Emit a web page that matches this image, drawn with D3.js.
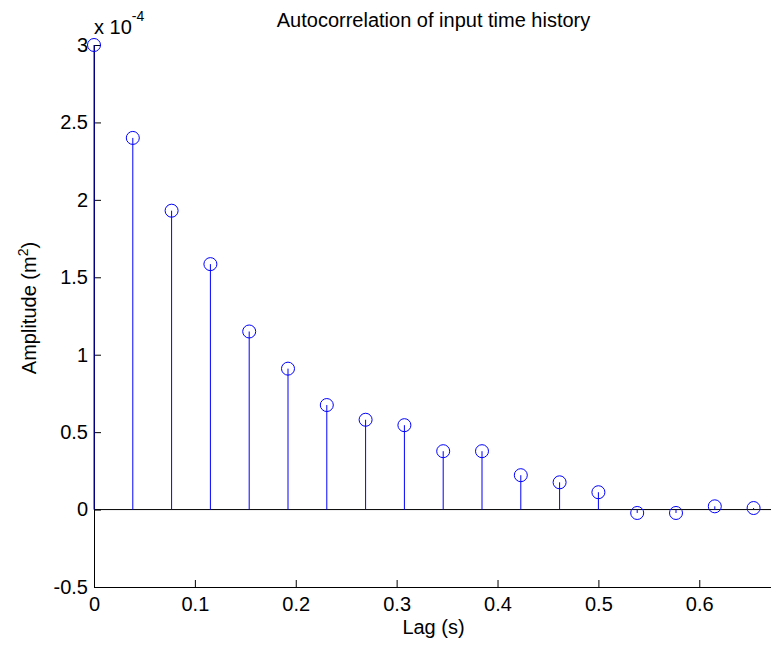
<!DOCTYPE html>
<html lang="en">
<head>
<meta charset="utf-8">
<title>Autocorrelation of input time history</title>
<script src="https://cdn.jsdelivr.net/npm/d3@7"></script>
<style>
  body { margin: 0; background: #fff; }
  svg { display: block; font-family: Arial, "Liberation Sans", Helvetica, sans-serif; }
  .axis path, .axis line { stroke: #000; }
  .axis text { fill: #000; font-size: 20px; }
</style>
</head>
<body>
<script>
// lag index k, lag = k / 26 s
var lagSteps = [0, 1, 2, 3, 4, 5, 6, 7, 8, 9, 10, 11, 12, 13, 14, 15, 16, 17];
var sampleRate = 26;
// amplitude in units of 1e-4 m^2
var amplitude = [3.00, 2.40, 1.93, 1.585, 1.15, 0.91, 0.675, 0.58, 0.545, 0.377,
                 0.377, 0.222, 0.176, 0.112, -0.022, -0.022, 0.021, 0.010];
var xTicks = [0, 0.1, 0.2, 0.3, 0.4, 0.5, 0.6];
var yTicks = [-0.5, 0, 0.5, 1, 1.5, 2, 2.5, 3];

var w = 771, h = 647;
var margin = {top: 45, right: -2, bottom: 60, left: 94};

var svg = d3.select("body").append("svg")
  .attr("width", w)
  .attr("height", h);

var x = d3.scaleLinear()
  .domain([0, 17.5 / sampleRate])
  .range([margin.left, w - margin.right]);

var y = d3.scaleLinear()
  .domain([-0.5, 3])
  .range([h - margin.bottom, margin.top]);

var data = lagSteps.map(function(k, i) {
  return {lag: k / sampleRate, val: amplitude[i]};
});

// plain hyphen for negatives, like matlab
var fmt = function(d) { return String(+d.toFixed(2)); };

// axes (ticks point inward like matlab)
var xAxis = d3.axisBottom(x)
  .tickValues(xTicks)
  .tickFormat(fmt)
  .tickSizeInner(-7)
  .tickSizeOuter(0)
  .tickPadding(10);

var yAxis = d3.axisLeft(y)
  .tickValues(yTicks)
  .tickFormat(fmt)
  .tickSizeInner(-7)
  .tickSizeOuter(0)
  .tickPadding(6);

svg.append("g")
  .attr("class", "x axis")
  .attr("transform", "translate(0," + y(-0.5) + ")")
  .call(xAxis);

svg.append("g")
  .attr("class", "y axis")
  .attr("transform", "translate(" + x(0) + ",0)")
  .call(yAxis);

// stem baseline
svg.append("line")
  .attr("x1", x(0))
  .attr("x2", x.range()[1])
  .attr("y1", y(0))
  .attr("y2", y(0))
  .attr("stroke", "#000")
  .attr("stroke-width", 1);

// stems
svg.selectAll("line.stem")
  .data(data)
  .enter()
  .append("line")
  .attr("class", "stem")
  .attr("x1", function(d) { return x(d.lag); })
  .attr("x2", function(d) { return x(d.lag); })
  .attr("y1", y(0))
  .attr("y2", function(d) { return y(d.val); })
  .attr("stroke", "#0000ff")
  .attr("stroke-width", 1);

// markers
svg.selectAll("circle")
  .data(data)
  .enter()
  .append("circle")
  .attr("cx", function(d) { return x(d.lag); })
  .attr("cy", function(d) { return y(d.val); })
  .attr("r", 6.5)
  .attr("fill", "none")
  .attr("stroke", "#0000ff")
  .attr("stroke-width", 1);

// exponent label
var expo = svg.append("text")
  .attr("x", x(0) + 0)
  .attr("y", 34)
  .attr("font-size", "20px");
expo.append("tspan").text("x 10");
expo.append("tspan")
  .attr("dy", -13)
  .attr("font-size", "14px")
  .text("-4");

// title
svg.append("text")
  .attr("x", (x.range()[0] + x.range()[1]) / 2)
  .attr("y", 27)
  .attr("text-anchor", "middle")
  .attr("font-size", "20px")
  .text("Autocorrelation of input time history");

// x label
svg.append("text")
  .attr("x", (x.range()[0] + x.range()[1]) / 2)
  .attr("y", 634)
  .attr("text-anchor", "middle")
  .attr("font-size", "20px")
  .text("Lag (s)");

// y label
var ylab = svg.append("text")
  .attr("transform", "translate(36," + ((y.range()[0] + y.range()[1]) / 2 - 8) + ") rotate(-90)")
  .attr("text-anchor", "middle")
  .attr("font-size", "20px");
ylab.append("tspan").text("Amplitude (m");
ylab.append("tspan").attr("dy", -8).attr("font-size", "14px").text("2");
ylab.append("tspan").attr("dy", 8).text(")");
</script>
</body>
</html>
